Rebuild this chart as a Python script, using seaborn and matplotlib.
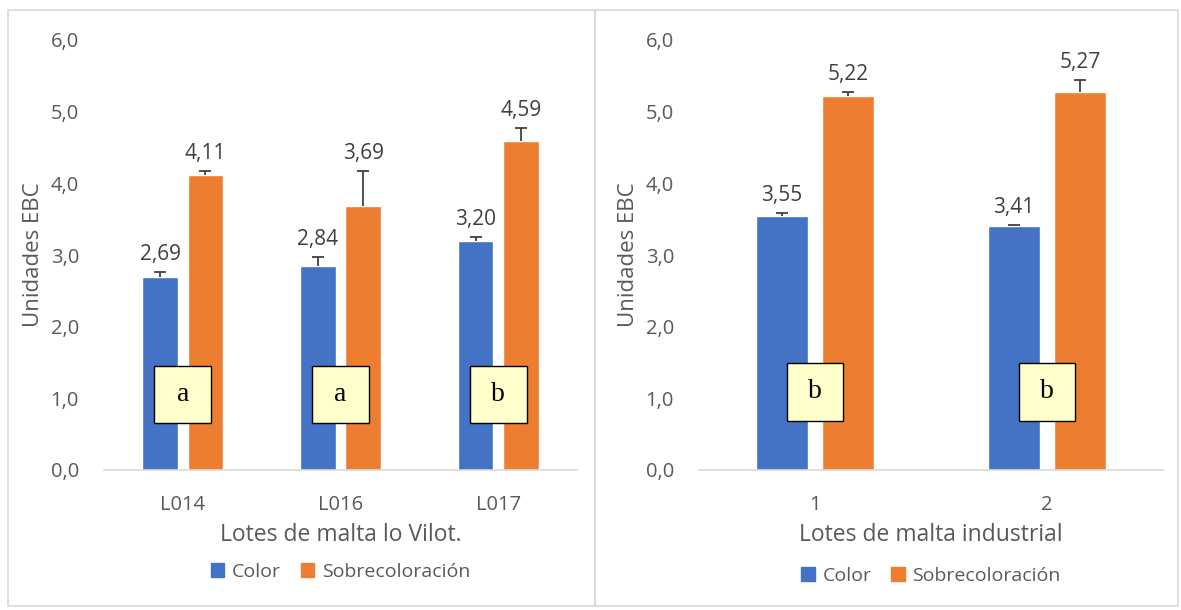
import matplotlib
matplotlib.use("Agg")
import matplotlib.pyplot as plt
import seaborn as sns
import pandas as pd
from matplotlib.patches import Rectangle

# Data
series = ["Color", "Sobrecoloración"]

lotes_vilot = ["L014", "L016", "L017"]
vilot_color = [2.69, 2.84, 3.20]
vilot_sobre = [4.11, 3.69, 4.59]
vilot_color_err = [0.07, 0.13, 0.05]
vilot_sobre_err = [0.06, 0.48, 0.18]
vilot_letras = ["a", "a", "b"]

lotes_ind = ["1", "2"]
ind_color = [3.55, 3.41]
ind_sobre = [5.22, 5.27]
ind_color_err = [0.04, 0.01]
ind_sobre_err = [0.05, 0.17]
ind_letras = ["b", "b"]

colors = ["#4472C4", "#ED7D31"]
txt = "#595959"

sns.set_style("white")
plt.rcParams["font.family"] = ["Open Sans", "DejaVu Sans"]

fig = plt.figure(figsize=(11.81, 6.10), dpi=100)
W, H = 1181, 610

# panel borders
for x0, x1 in [(8, 595), (595, 1178)]:
    fig.add_artist(Rectangle((x0 / W, 1 - 606 / H), (x1 - x0) / W, 596 / H,
                             transform=fig.transFigure, fill=False,
                             edgecolor="#d9d9d9", lw=1.2))


def panel(rect, lotes, color, sobre, color_err, sobre_err, letras, xlabel,
          leg_y, box_w, box_y):
    ax = fig.add_axes(rect)
    df = pd.DataFrame({
        "lote": lotes * 2,
        "serie": [series[0]] * len(lotes) + [series[1]] * len(lotes),
        "valor": list(color) + list(sobre),
    })
    sns.barplot(data=df, x="lote", y="valor", hue="serie", order=lotes,
                hue_order=series, palette=colors, saturation=1, errorbar=None,
                width=0.575, gap=0.22, ax=ax, legend=False)
    errs = list(color_err) + list(sobre_err)
    vals = list(color) + list(sobre)
    for p, v, e in zip(ax.patches, vals, errs):
        cx = p.get_x() + p.get_width() / 2
        _, caps, _ = ax.errorbar(cx, v, yerr=[[0], [e]], fmt="none",
                                 ecolor="#404040", elinewidth=1.3,
                                 capsize=4, capthick=1.3)
        caps[0].set_visible(False)
        ax.text(cx, v + e + 0.1, f"{v:.2f}".replace(".", ","), ha="center",
                va="bottom", fontsize=15, color="#404040")
    box_h = 0.8
    for i, l in enumerate(letras):
        ax.add_patch(Rectangle((i - box_w / 2, box_y - box_h / 2), box_w, box_h,
                               facecolor="#FFFFCC", edgecolor="black", lw=1,
                               zorder=5))
        ax.text(i, box_y, l, ha="center", va="center", fontsize=20,
                family=["Liberation Serif", "DejaVu Serif"], color="black",
                zorder=6)
    ax.set_ylim(0, 6)
    ax.set_xlim(-0.5, len(lotes) - 0.5)
    ax.set_yticks([0, 1, 2, 3, 4, 5, 6])
    ax.set_yticklabels([f"{t:.1f}".replace(".", ",") for t in range(7)])
    ax.tick_params(axis="both", length=0, labelsize=14.5, labelcolor=txt, pad=18)
    ax.tick_params(axis="x", pad=18)
    ax.set_ylabel("Unidades EBC", fontsize=16, color=txt, labelpad=5)
    ax.set_xlabel(xlabel, fontsize=16.5, color=txt, labelpad=6)
    for s in ["top", "right", "left"]:
        ax.spines[s].set_visible(False)
    ax.spines["bottom"].set_color("#d9d9d9")
    ax.spines["bottom"].set_linewidth(1.2)
    handles = [Rectangle((0, 0), 1, 1, color=c) for c in colors]
    fig.legend(handles, series, loc="center",
               bbox_to_anchor=(rect[0] + rect[2] / 2, leg_y), ncol=2,
               frameon=False, fontsize=14, labelcolor=txt,
               handlelength=0.7, handleheight=0.7, handletextpad=0.4,
               columnspacing=1.0)
    return ax


panel([104 / W, 1 - 470 / H, 473 / W, 430 / H], lotes_vilot, vilot_color,
      vilot_sobre, vilot_color_err, vilot_sobre_err, vilot_letras,
      "Lotes de malta lo Vilot.", 1 - 572 / H, 0.36, 1.05)
panel([699 / W, 1 - 470 / H, 464 / W, 430 / H], lotes_ind, ind_color,
      ind_sobre, ind_color_err, ind_sobre_err, ind_letras,
      "Lotes de malta industrial", 1 - 576 / H, 0.245, 1.09)

fig.savefig("out.png", dpi=100, facecolor="white")
